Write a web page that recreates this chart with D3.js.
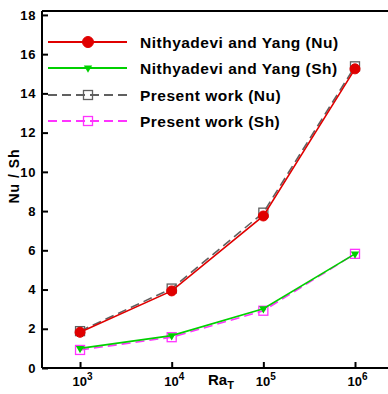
<!DOCTYPE html>
<html>
<head>
<meta charset="utf-8">
<script src="https://cdn.jsdelivr.net/npm/d3@7"></script>
<style>
  html, body { margin: 0; padding: 0; background: #fff; }
  svg text { font-family: "Liberation Sans", Arial, sans-serif; font-weight: bold; fill: #000; }
</style>
</head>
<body>
<svg id="chart" width="388" height="394"></svg>
<script>
// Rayleigh number exponents (Ra_T = 10^n)
const raExponents = [3, 4, 5, 6];
const yTicks = [0, 2, 4, 6, 8, 10, 12, 14, 16, 18];

const nithyadeviNu = [1.82, 3.93, 7.75, 15.25];
const nithyadeviSh = [1.0, 1.65, 3.02, 5.82];
const presentNu = [1.88, 4.05, 7.92, 15.38];
const presentSh = [0.92, 1.57, 2.92, 5.82];

const seriesNames = [
  "Nithyadevi and Yang (Nu)",
  "Nithyadevi and Yang (Sh)",
  "Present work (Nu)",
  "Present work (Sh)"
];

const svg = d3.select("#chart");
const plotLeft = 42, plotTop = 11, plotBottom = 368;

const x = d3.scaleLinear().domain([2.585, 6.36]).range([plotLeft, 388]);
const y = d3.scaleLinear().domain([0, 18.2]).range([plotBottom, plotTop]);

const series = [
  { name: seriesNames[0], values: nithyadeviNu, color: "#e00000", dash: null, marker: "circle" },
  { name: seriesNames[1], values: nithyadeviSh, color: "#00d000", dash: null, marker: "triangle" },
  { name: seriesNames[2], values: presentNu, color: "#606060", dash: "9,5", marker: "square" },
  { name: seriesNames[3], values: presentSh, color: "#ff33ff", dash: "9,5", marker: "square" }
];

// frame: left, top and bottom edges
svg.append("line").attr("x1", plotLeft).attr("x2", 388).attr("y1", plotTop).attr("y2", plotTop)
  .attr("stroke", "#000").attr("stroke-width", 2);
svg.append("line").attr("x1", plotLeft).attr("x2", 388).attr("y1", plotBottom).attr("y2", plotBottom)
  .attr("stroke", "#000").attr("stroke-width", 2);
svg.append("line").attr("x1", plotLeft).attr("x2", plotLeft).attr("y1", plotTop).attr("y2", plotBottom)
  .attr("stroke", "#000").attr("stroke-width", 2);

// y axis with inward ticks
const yAxis = d3.axisLeft(y).tickValues(yTicks).tickSizeInner(-6).tickSizeOuter(0).tickPadding(6);
const gy = svg.append("g").attr("transform", `translate(${plotLeft},0)`).call(yAxis);
gy.select(".domain").remove();
gy.selectAll(".tick line").attr("stroke", "#000").attr("stroke-width", 2);
gy.selectAll(".tick text").attr("font-size", 13).attr("font-weight", "bold")
  .attr("letter-spacing", 0.6)
  .attr("font-family", "Liberation Sans, Arial, sans-serif").attr("fill", "#000");

// x axis with inward ticks and power-of-ten labels
const xAxis = d3.axisBottom(x).tickValues(raExponents).tickSizeInner(-6).tickSizeOuter(0).tickFormat("");
const gx = svg.append("g").attr("transform", `translate(0,${plotBottom})`).call(xAxis);
gx.select(".domain").remove();
gx.selectAll(".tick line").attr("stroke", "#000").attr("stroke-width", 2);
gx.selectAll(".tick").each(function(d) {
  const t = d3.select(this).append("text")
    .attr("x", 2).attr("y", 18).attr("text-anchor", "middle")
    .attr("font-size", 13).attr("font-weight", "bold")
    .attr("font-family", "Liberation Sans, Arial, sans-serif").attr("fill", "#000");
  t.append("tspan").text("10");
  t.append("tspan").attr("dy", -6).attr("font-size", 10).text(d);
});

// axis titles
svg.append("text").attr("transform", `translate(19,176) rotate(-90)`)
  .attr("text-anchor", "middle").attr("font-size", 14).attr("letter-spacing", 1)
  .text("Nu / Sh");
const xt = svg.append("text").attr("x", 208).attr("y", 385).attr("font-size", 15);
xt.append("tspan").text("Ra");
xt.append("tspan").attr("dy", 4).attr("font-size", 11).text("T");

function drawMarker(g, kind, color, cx, cy, big) {
  if (kind === "circle") {
    g.append("circle").attr("cx", cx).attr("cy", cy).attr("r", big ? 5.5 : 5).attr("fill", color).attr("stroke", color);
  } else if (kind === "triangle") {
    g.append("path").attr("d", d3.symbol().type(d3.symbolTriangle).size(30)())
      .attr("transform", `translate(${cx},${cy}) rotate(180)`).attr("fill", color);
  } else {
    g.append("rect").attr("x", cx - 4.5).attr("y", cy - 4.5).attr("width", 9).attr("height", 9)
      .attr("fill", "none").attr("stroke", color).attr("stroke-width", 1.3);
  }
}

const line = d3.line().x((d, i) => x(raExponents[i])).y(d => y(d));
const plot = svg.append("g");
// draw present-work series first so the reference curves sit on top
const order = [2, 3, 0, 1];
order.forEach(k => {
  const s = series[k];
  const g = plot.append("g");
  g.append("path").attr("d", line(s.values)).attr("fill", "none")
    .attr("stroke", s.color).attr("stroke-width", 1.6)
    .attr("stroke-dasharray", s.dash);
  s.values.forEach((v, i) => drawMarker(g, s.marker, s.color, x(raExponents[i]), y(v), false));
});

// legend
const legendY = [42, 68, 95, 121];
series.forEach((s, i) => {
  const g = svg.append("g");
  g.append("line").attr("x1", 48).attr("x2", 127).attr("y1", legendY[i]).attr("y2", legendY[i])
    .attr("stroke", s.color).attr("stroke-width", 1.8).attr("stroke-dasharray", s.dash);
  drawMarker(g, s.marker, s.color, 88, legendY[i], true);
  g.append("text").attr("x", 140).attr("y", legendY[i] + 5.5).attr("font-size", 15.5)
    .attr("letter-spacing", 0.5).text(s.name);
});
</script>
</body>
</html>
